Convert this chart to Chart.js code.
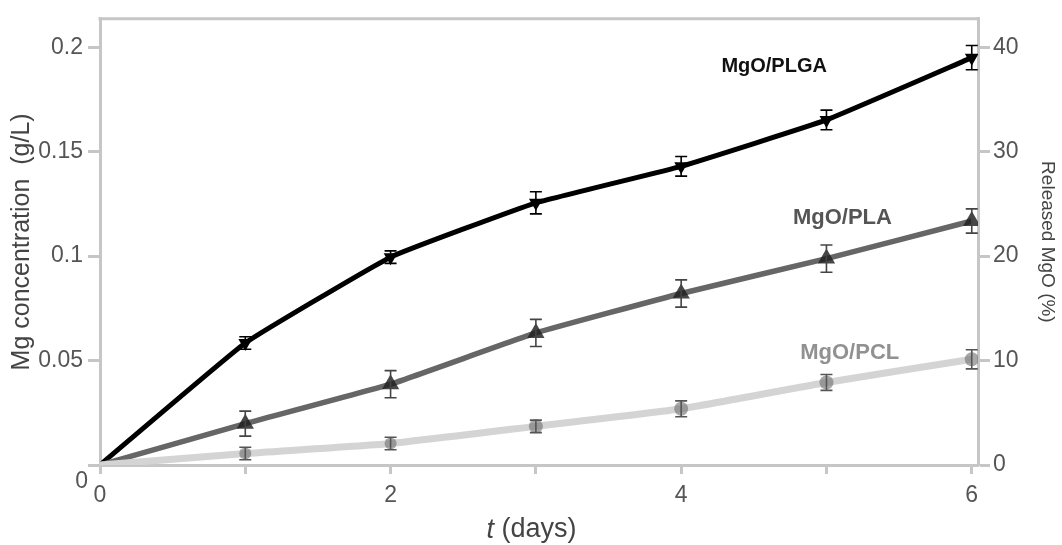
<!DOCTYPE html>
<html>
<head>
<meta charset="utf-8">
<script src="https://cdn.jsdelivr.net/npm/chart.js@4.4.1/dist/chart.umd.min.js"></script>
<style>
  html, body { margin: 0; padding: 0; background: #fff; }
  #wrap { width: 1062px; height: 545px; }
</style>
</head>
<body>
<div id="wrap"><canvas id="releaseChart" width="1062" height="545"></canvas></div>
<script>
// days
const days = [0, 1, 2, 3, 4, 5, 6];

// Mg concentration (g/L)
const plgaValues = [0, 0.0584, 0.0995, 0.1255, 0.143, 0.1652, 0.195];
const plaValues  = [0, 0.0198, 0.0387, 0.0632, 0.0821, 0.0988, 0.1168];
const pclValues  = [0, 0.0055, 0.0103, 0.0185, 0.0269, 0.0395, 0.0506];

// error bars (+/-, g/L)
const plgaErrors = [0, 0.003, 0.003, 0.0053, 0.0047, 0.0047, 0.0058];
const plaErrors  = [0, 0.006, 0.0065, 0.0065, 0.0065, 0.0065, 0.0058];
const pclErrors  = [0, 0.003, 0.003, 0.003, 0.0038, 0.0038, 0.0046];

// tick labels
const xTickLabels = { 0: '0', 2: '2', 4: '4', 6: '6' };
const leftTickLabels = ['0', '0.05', '0.1', '0.15', '0.2'];
const rightTickLabels = ['0', '10', '20', '30', '40'];

const seriesNames = ['MgO/PLGA', 'MgO/PLA', 'MgO/PCL'];

const axisGrey = '#c6c6c6';
const textGrey = '#555';
const FONT = '"Liberation Sans", Arial, Helvetica, sans-serif';

Chart.defaults.font.family = FONT;

function toPoints(vals) {
    return days.map((d, i) => ({ x: d, y: vals[i] }));
}

// series name labels, placed in data coordinates
const seriesLabels = [
    { text: seriesNames[0], x: 4.64, y: 0.1908, size: 20, color: '#111' },
    { text: seriesNames[1], x: 5.11, y: 0.1184, size: 22, color: '#555' },
    { text: seriesNames[2], x: 5.16, y: 0.0535, size: 22, color: '#919191' }
];

// error bars drawn through the scales
const errorBarPlugin = {
    id: 'errorBars',
    afterDatasetsDraw(chart) {
        const ctx = chart.ctx;
        const xs = chart.scales.x;
        const ys = chart.scales.y;
        chart.data.datasets.forEach(ds => {
            if (!ds.errors) return;
            ctx.save();
            ctx.strokeStyle = ds.errorColor;
            ctx.lineWidth = 1.6;
            ds.data.forEach((p, i) => {
                const e = ds.errors[i];
                if (!e) return;
                const px = xs.getPixelForValue(p.x);
                const top = ys.getPixelForValue(p.y + e);
                const bot = ys.getPixelForValue(p.y - e);
                ctx.beginPath();
                ctx.moveTo(px, top);
                ctx.lineTo(px, bot);
                ctx.moveTo(px - 6, top);
                ctx.lineTo(px + 6, top);
                ctx.moveTo(px - 6, bot);
                ctx.lineTo(px + 6, bot);
                ctx.stroke();
            });
            ctx.restore();
        });
    }
};

// series names, x axis title with italic t, and the offset left "0"
const textPlugin = {
    id: 'extraText',
    afterDraw(chart) {
        const ctx = chart.ctx;
        const xs = chart.scales.x;
        const ys = chart.scales.y;
        ctx.save();
        ctx.textAlign = 'center';
        ctx.textBaseline = 'middle';
        seriesLabels.forEach(l => {
            ctx.font = 'bold ' + l.size + 'px ' + FONT;
            ctx.fillStyle = l.color;
            ctx.fillText(l.text, xs.getPixelForValue(l.x), ys.getPixelForValue(l.y));
        });

        // left axis zero sits a bit below its tick in the original
        ctx.font = '23px ' + FONT;
        ctx.fillStyle = textGrey;
        ctx.textAlign = 'right';
        ctx.fillText(leftTickLabels[0], ys.left + ys.width - 12, ys.getPixelForValue(0) + 17);

        // x axis title
        const cx = xs.getPixelForValue(2.97);
        const ty = 530;
        ctx.fillStyle = '#444';
        ctx.font = 'italic 27px ' + FONT;
        const tW = ctx.measureText('t').width;
        ctx.font = '27px ' + FONT;
        const restW = ctx.measureText(' (days)').width;
        const startX = cx - (tW + restW) / 2;
        ctx.textAlign = 'left';
        ctx.font = 'italic 27px ' + FONT;
        ctx.fillText('t', startX, ty);
        ctx.font = '27px ' + FONT;
        ctx.fillText(' (days)', startX + tW, ty);
        ctx.restore();
    }
};

// top frame line
const framePlugin = {
    id: 'frame',
    beforeDatasetsDraw(chart) {
        const a = chart.chartArea;
        const ctx = chart.ctx;
        ctx.save();
        ctx.strokeStyle = axisGrey;
        ctx.lineWidth = 3;
        ctx.beginPath();
        ctx.moveTo(a.left - 1.5, a.top);
        ctx.lineTo(a.right + 1.5, a.top);
        ctx.stroke();
        ctx.restore();
    }
};

const bgPlugin = {
    id: 'bg',
    beforeDraw(chart) {
        const ctx = chart.ctx;
        ctx.save();
        ctx.fillStyle = '#fff';
        ctx.fillRect(0, 0, chart.width, chart.height);
        ctx.restore();
    }
};

const ctx = document.getElementById('releaseChart').getContext('2d');
window.releaseChart = new Chart(ctx, {
    type: 'line',
    data: {
        datasets: [
            {
                label: seriesNames[2],
                data: toPoints(pclValues),
                errors: pclErrors,
                errorColor: '#555',
                borderColor: '#d4d4d4',
                borderWidth: 7,
                tension: 0.15,
                pointStyle: 'circle',
                pointRadius: [0, 6, 6, 7, 7, 7, 7],
                pointBackgroundColor: 'rgba(110,110,110,0.6)',
                pointBorderWidth: 0
            },
            {
                label: seriesNames[1],
                data: toPoints(plaValues),
                errors: plaErrors,
                errorColor: '#444',
                borderColor: '#666',
                borderWidth: 5.5,
                tension: 0.1,
                pointStyle: 'triangle',
                pointRadius: [0, 10, 10, 10, 10, 10, 10],
                pointBackgroundColor: 'rgba(30,30,30,0.82)',
                pointBorderWidth: 0
            },
            {
                label: seriesNames[0],
                data: toPoints(plgaValues),
                errors: plgaErrors,
                errorColor: '#000',
                borderColor: '#000',
                borderWidth: 5,
                tension: 0.1,
                pointStyle: 'triangle',
                rotation: 180,
                pointRadius: [0, 8, 8, 8, 8, 8, 8],
                pointBackgroundColor: '#000',
                pointBorderWidth: 0
            }
        ]
    },
    options: {
        responsive: false,
        animation: false,
        layout: { padding: { top: 14, left: 0, right: 0, bottom: 0 } },
        plugins: {
            legend: { display: false },
            tooltip: { enabled: false }
        },
        scales: {
            x: {
                type: 'linear',
                min: 0,
                max: 6.043,
                afterFit(scale) { scale.height = 80; },
                border: { display: true, color: axisGrey, width: 3 },
                grid: { drawOnChartArea: false, drawTicks: true, tickLength: 9, tickColor: axisGrey, tickWidth: 3 },
                ticks: {
                    stepSize: 1,
                    includeBounds: false,
                    autoSkip: false,
                    maxRotation: 0,
                    color: textGrey,
                    font: { size: 23 },
                    padding: 8,
                    callback: v => xTickLabels[v] !== undefined ? xTickLabels[v] : ''
                }
            },
            y: {
                type: 'linear',
                position: 'left',
                min: 0,
                max: 0.2136,
                afterFit(scale) { scale.width = 100; },
                border: { display: true, color: axisGrey, width: 3 },
                grid: { drawOnChartArea: false, drawTicks: true, tickLength: 12, tickColor: axisGrey, tickWidth: 3 },
                ticks: {
                    stepSize: 0.05,
                    includeBounds: false,
                    color: textGrey,
                    font: { size: 23 },
                    padding: 5,
                    // zero is drawn separately, offset downward
                    callback: (v, i) => i === 0 ? '' : leftTickLabels[i]
                },
                title: {
                    display: true,
                    text: 'Mg concentration  (g/L)',
                    color: '#444',
                    font: { size: 25 },
                    padding: { top: 7, bottom: 0 }
                }
            },
            y2: {
                type: 'linear',
                position: 'right',
                min: 0,
                max: 42.72,
                afterFit(scale) { scale.width = 84; },
                border: { display: true, color: axisGrey, width: 3 },
                grid: { drawOnChartArea: false, drawTicks: true, tickLength: 12, tickColor: axisGrey, tickWidth: 3 },
                ticks: {
                    stepSize: 10,
                    includeBounds: false,
                    color: textGrey,
                    font: { size: 23 },
                    padding: 3,
                    callback: (v, i) => rightTickLabels[i]
                },
                title: {
                    display: true,
                    text: 'Released MgO (%)',
                    color: '#444',
                    font: { size: 19 },
                    padding: { top: 3, bottom: 0 }
                }
            }
        }
    },
    plugins: [bgPlugin, framePlugin, errorBarPlugin, textPlugin]
});
</script>
</body>
</html>
